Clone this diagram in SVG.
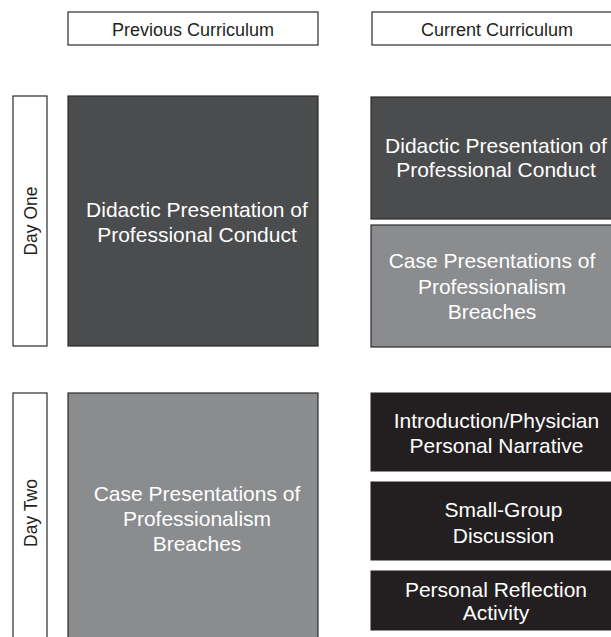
<svg xmlns="http://www.w3.org/2000/svg" width="611" height="637" viewBox="0 0 611 637">
<style>
.hdr{fill:#ffffff;stroke:#2b2b2b;stroke-width:1.2}
.dark{fill:#4b4c4e;stroke:#2b2b2b;stroke-width:1.2}
.grey{fill:#8b8c8e;stroke:#2b2b2b;stroke-width:1.2}
.black{fill:#231f20;stroke:#231f20;stroke-width:1}
text{font-family:"Liberation Sans",Arial,sans-serif;text-anchor:middle}
.ht{font-size:18px;fill:#231f20}
.dt{font-size:17.5px;fill:#231f20}
.bt{font-size:21px;fill:#ffffff}
</style>
<rect width="611" height="637" fill="#ffffff"/>
<g id="header-previous">
<rect class="hdr" x="68" y="12" width="250" height="33"/>
<text class="ht" x="193" y="36">Previous Curriculum</text>
</g>
<g id="header-current">
<rect class="hdr" x="372" y="12" width="250" height="33"/>
<text class="ht" x="497" y="36">Current Curriculum</text>
</g>
<g id="day-one">
<rect class="hdr" x="13" y="96" width="34" height="250"/>
<text class="dt" transform="translate(36.5,221) rotate(-90)">Day One</text>
</g>
<g id="day-two">
<rect class="hdr" x="13" y="393" width="34" height="260"/>
<text class="dt" transform="translate(36.5,513) rotate(-90)">Day Two</text>
</g>
<g id="prev-day1">
<rect class="dark" x="68" y="96" width="250" height="250"/>
<text class="bt" x="197" y="217">Didactic Presentation of</text>
<text class="bt" x="197" y="242">Professional Conduct</text>
</g>
<g id="prev-day2">
<rect class="grey" x="68" y="393" width="250" height="260"/>
<text class="bt" x="197" y="501">Case Presentations of</text>
<text class="bt" x="197" y="526">Professionalism</text>
<text class="bt" x="197" y="551">Breaches</text>
</g>
<g id="cur-didactic">
<rect class="dark" x="371" y="97" width="250" height="122"/>
<text class="bt" x="496" y="153">Didactic Presentation of</text>
<text class="bt" x="496" y="177">Professional Conduct</text>
</g>
<g id="cur-case">
<rect class="grey" x="371" y="225" width="250" height="122"/>
<text class="bt" x="492" y="268">Case Presentations of</text>
<text class="bt" x="492" y="294">Professionalism</text>
<text class="bt" x="492" y="319">Breaches</text>
</g>
<g id="cur-intro">
<rect class="black" x="371" y="393" width="250" height="78"/>
<text class="bt" x="496.5" y="428">Introduction/Physician</text>
<text class="bt" x="496.5" y="453">Personal Narrative</text>
</g>
<g id="cur-small-group">
<rect class="black" x="371" y="482" width="250" height="78"/>
<text class="bt" x="503.5" y="517">Small-Group</text>
<text class="bt" x="503.5" y="543">Discussion</text>
</g>
<g id="cur-reflection">
<rect class="black" x="371" y="571" width="250" height="59"/>
<text class="bt" x="496" y="597">Personal Reflection</text>
<text class="bt" x="496" y="620">Activity</text>
</g>
<g id="connectors"></g>
</svg>
